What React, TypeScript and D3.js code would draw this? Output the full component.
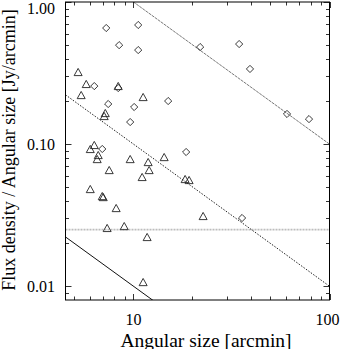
import React, { useEffect, useRef } from 'react';
import * as d3 from 'd3';

// Diamonds
const diamondSize = [7.26, 10.57, 8.45, 10.57, 6.31, 8.36, 7.43, 10.08, 15.03, 9.62, 6.93, 21.88, 34.6, 39.3, 60.7, 78.6, 18.56, 35.8];
const diamondFlux = [0.656, 0.689, 0.497, 0.459, 0.256, 0.248, 0.1915, 0.1824, 0.201, 0.143, 0.0924, 0.482, 0.506, 0.338, 0.163, 0.150, 0.088, 0.0302];

// Triangles
const triangleSize = [5.22, 5.74, 5.41, 8.36, 11.2, 7.18, 7.09, 6.31, 6.02, 6.61, 6.53, 9.62, 11.88, 14.34, 7.52, 12.02, 11.07, 6.02, 6.93, 7.01, 8.16, 7.34, 8.97, 11.74, 11.2, 18.34, 19.22, 22.66];
const triangleFlux = [0.3217, 0.265, 0.2215, 0.2564, 0.2145, 0.1655, 0.1577, 0.0986, 0.0924, 0.0838, 0.0785, 0.0785, 0.0748, 0.0811, 0.0657, 0.0657, 0.0587, 0.0483, 0.0431, 0.0424, 0.0355, 0.0257, 0.0265, 0.0222, 0.0107, 0.0568, 0.0559, 0.0312];

// reference lines y = norm / x
const lineNorms = [10, 1, 0.1];
const lineStyles = ['upper', 'middle', 'lower'];
const horizontalLevel = 0.025;

const xMajorTicks = [10, 100];
const xTickLabels = ['10', '100'];
const yMajorTicks = [0.01, 0.1, 1];
const yTickLabels = ['0.01', '0.10', '1.00'];

const W = 344;
const H = 349;

const App = () => {
  const svgRef = useRef<SVGSVGElement>(null);

  useEffect(() => {
    const svg = d3.select(svgRef.current);
    svg.selectAll('*').remove();

    const left = 65.5, right = 329.5, top = 2, bottom = 300;

    const x = d3.scaleLog().domain([4.5, 100]).range([left, right]);
    const y = d3.scaleLog().domain([0.008, 1.0]).range([bottom, top]);

    svg.append('defs').append('clipPath').attr('id', 'plotclip')
      .append('rect')
      .attr('x', left).attr('y', top)
      .attr('width', right - left).attr('height', bottom - top);

    const font = '"Liberation Serif", "Times New Roman", serif';

    // horizontal level
    svg.append('line')
      .attr('x1', left).attr('x2', right)
      .attr('y1', y(horizontalLevel)).attr('y2', y(horizontalLevel))
      .attr('stroke', '#bdbdbd')
      .attr('stroke-width', 1.6)
      .attr('stroke-dasharray', '2 1');

    // power-law lines
    const plot = svg.append('g').attr('clip-path', 'url(#plotclip)');
    const xs = x.domain();
    lineNorms.forEach((n, i) => {
      const pts: [number, number][] = xs.map(v => [x(v), y(n / v)]);
      const style = lineStyles[i];
      plot.append('path')
        .attr('d', d3.line()(pts))
        .attr('fill', 'none')
        .attr('stroke', style === 'upper' ? '#555' : style === 'middle' ? '#222' : '#111')
        .attr('stroke-width', style === 'upper' ? 0.8 : 1)
        .attr('stroke-dasharray', style === 'middle' ? '1.5 1.5' : style === 'upper' ? '3 0.8' : null);
    });

    // diamonds
    const ds = 3.6;
    plot.selectAll('.dia')
      .data(diamondSize.map((s, i) => [s, diamondFlux[i]]))
      .enter().append('path')
      .attr('d', d => {
        const cx = x(d[0]), cy = y(d[1]);
        return `M${cx},${cy - ds}L${cx + ds},${cy}L${cx},${cy + ds}L${cx - ds},${cy}Z`;
      })
      .attr('fill', 'none')
      .attr('stroke', '#222')
      .attr('stroke-width', 0.9);

    // triangles
    const tw = 4, th = 3.6;
    plot.selectAll('.tri')
      .data(triangleSize.map((s, i) => [s, triangleFlux[i]]))
      .enter().append('path')
      .attr('d', d => {
        const cx = x(d[0]), cy = y(d[1]);
        return `M${cx},${cy - th}L${cx + tw},${cy + th}L${cx - tw},${cy + th}Z`;
      })
      .attr('fill', 'none')
      .attr('stroke', '#222')
      .attr('stroke-width', 0.9);

    // ticks on all four sides
    const major = 6, minor = 3.5;
    const xMinor: number[] = [];
    [1, 10].forEach(dec => d3.range(2, 10).forEach(k => {
      const v = dec * k;
      if (v > 4.5 && v < 100 && v !== 10) xMinor.push(v);
    }));
    const yMinor: number[] = [];
    [0.001, 0.01, 0.1].forEach(dec => d3.range(2, 10).forEach(k => {
      const v = dec * k;
      if (v > 0.008 && v < 1) yMinor.push(v);
    }));

    const ticks = svg.append('g').attr('stroke', '#333').attr('stroke-width', 1);
    const xt = [...xMajorTicks.map(v => [v, major]), ...xMinor.map(v => [v, minor])];
    xt.forEach(([v, len]) => {
      const px = Math.round(x(v)) + 0.5;
      ticks.append('line').attr('x1', px).attr('x2', px).attr('y1', bottom).attr('y2', bottom - len);
      ticks.append('line').attr('x1', px).attr('x2', px).attr('y1', top).attr('y2', top + len);
    });
    const yt = [...yMajorTicks.map(v => [v, major]), ...yMinor.map(v => [v, minor])];
    yt.forEach(([v, len]) => {
      const py = Math.round(y(v)) + 0.5;
      ticks.append('line').attr('x1', left).attr('x2', left + len).attr('y1', py).attr('y2', py);
      ticks.append('line').attr('x1', right).attr('x2', right - len).attr('y1', py).attr('y2', py);
    });

    // frame
    svg.append('rect')
      .attr('x', left).attr('y', top)
      .attr('width', right - left).attr('height', bottom - top)
      .attr('fill', 'none')
      .attr('stroke', '#000')
      .attr('stroke-width', 1);

    // tick labels
    xMajorTicks.forEach((v, i) => {
      svg.append('text')
        .attr('x', x(v) - (i === 1 ? 2 : 0)).attr('y', 325)
        .attr('text-anchor', 'middle')
        .style('font-family', font).style('font-size', '16px')
        .text(xTickLabels[i]);
    });
    yMajorTicks.forEach((v, i) => {
      svg.append('text')
        .attr('x', 55).attr('y', Math.max(y(v), 8))
        .attr('dy', '0.35em')
        .attr('text-anchor', 'end')
        .style('font-family', font).style('font-size', '16px')
        .text(yTickLabels[i]);
    });

    // axis titles
    svg.append('text')
      .attr('x', 206).attr('y', 346.5)
      .attr('text-anchor', 'middle')
      .style('font-family', font).style('font-size', '19.5px')
      .text('Angular size [arcmin]');

    svg.append('text')
      .attr('transform', 'translate(15,150) rotate(-90)')
      .attr('text-anchor', 'middle')
      .style('font-family', font).style('font-size', '18px')
      .text('Flux density / Angular size [Jy/arcmin]');
  }, []);

  return (
    <svg
      ref={svgRef}
      width={W}
      height={H}
      style={{ position: 'absolute', left: 0, top: 0, background: '#fff' }}
    />
  );
};

export default App;
